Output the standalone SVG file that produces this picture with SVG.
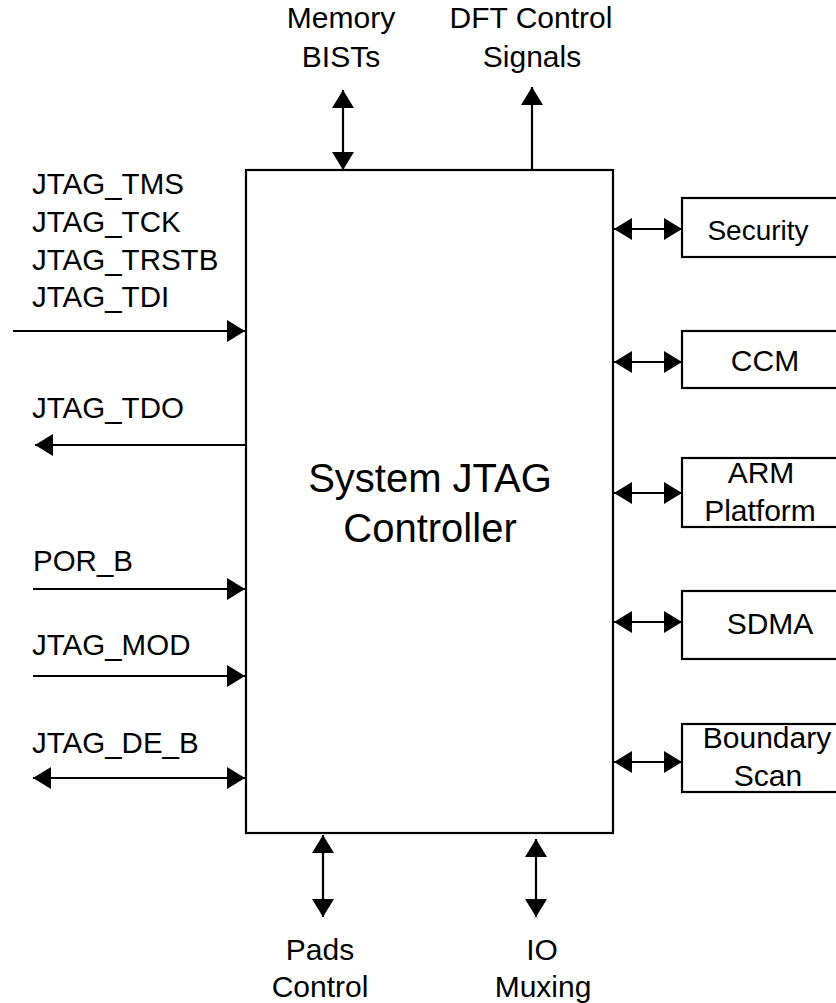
<svg xmlns="http://www.w3.org/2000/svg" width="836" height="1003" viewBox="0 0 836 1003">
<style>
.t{font-family:"Liberation Sans",Arial,sans-serif;font-size:30px;fill:#000}
.l{font-size:29.5px}
.c{text-anchor:middle}
.box{fill:#fff;stroke:#000;stroke-width:2.2}
.ln{stroke:#000;stroke-width:2.2;fill:none}
</style>
<defs>
<marker id="ah" markerUnits="userSpaceOnUse" markerWidth="18" markerHeight="22" refX="18" refY="11" orient="auto-start-reverse" viewBox="0 0 18 22">
<path d="M0,0 L18,11 L0,22 z" fill="#000"/>
</marker>
</defs>
<rect width="836" height="1003" fill="#fff"/>
<g id="controller">
<rect class="box" x="246" y="170" width="367" height="663"/>
<text class="t c" x="430" y="492" style="font-size:40px">System JTAG</text>
<text class="t c" x="430" y="542" style="font-size:40px">Controller</text>
</g>
<g id="security"><rect class="box" x="682" y="198" width="170" height="59"/><text class="t c" x="758" y="240" style="font-size:28px">Security</text></g>
<g id="ccm"><rect class="box" x="682" y="331" width="170" height="57"/><text class="t c" x="765" y="371">CCM</text></g>
<g id="arm"><rect class="box" x="682" y="458" width="170" height="69"/><text class="t c" x="761" y="483">ARM</text><text class="t c" x="760" y="521">Platform</text></g>
<g id="sdma"><rect class="box" x="682" y="591" width="170" height="68"/><text class="t c" x="770" y="634">SDMA</text></g>
<g id="boundary"><rect class="box" x="682" y="724" width="170" height="68"/><text class="t c" x="767" y="748">Boundary</text><text class="t c" x="768" y="786">Scan</text></g>
<g id="labels">
<text class="t l" x="32" y="194">JTAG_TMS</text>
<text class="t l" x="32" y="232">JTAG_TCK</text>
<text class="t l" x="32" y="270">JTAG_TRSTB</text>
<text class="t l" x="32" y="307">JTAG_TDI</text>
<text class="t l" x="32" y="418">JTAG_TDO</text>
<text class="t l" x="33" y="571">POR_B</text>
<text class="t l" x="32" y="655">JTAG_MOD</text>
<text class="t l" x="32" y="753">JTAG_DE_B</text>
<text class="t c" x="341" y="28">Memory</text>
<text class="t c" x="341" y="67">BISTs</text>
<text class="t c" x="531" y="28">DFT Control</text>
<text class="t c" x="532" y="67">Signals</text>
<text class="t c" x="320" y="960">Pads</text>
<text class="t c" x="320" y="997">Control</text>
<text class="t c" x="542" y="960">IO</text>
<text class="t c" x="543" y="997">Muxing</text>
</g>
<g id="connectors">
<line class="ln" x1="13" y1="331" x2="245" y2="331" marker-end="url(#ah)"/>
<line class="ln" x1="246" y1="445" x2="35" y2="445" marker-end="url(#ah)"/>
<line class="ln" x1="33" y1="589" x2="245" y2="589" marker-end="url(#ah)"/>
<line class="ln" x1="33" y1="676" x2="245" y2="676" marker-end="url(#ah)"/>
<line class="ln" x1="33" y1="778" x2="245" y2="778" marker-start="url(#ah)" marker-end="url(#ah)"/>
<line class="ln" x1="343" y1="90" x2="343" y2="170" marker-start="url(#ah)" marker-end="url(#ah)"/>
<line class="ln" x1="532" y1="170" x2="532" y2="87" marker-end="url(#ah)"/>
<line class="ln" x1="323" y1="835" x2="323" y2="917" marker-start="url(#ah)" marker-end="url(#ah)"/>
<line class="ln" x1="536" y1="839" x2="536" y2="917" marker-start="url(#ah)" marker-end="url(#ah)"/>
<line class="ln" x1="614" y1="229" x2="682" y2="229" marker-start="url(#ah)" marker-end="url(#ah)"/>
<line class="ln" x1="614" y1="362" x2="682" y2="362" marker-start="url(#ah)" marker-end="url(#ah)"/>
<line class="ln" x1="614" y1="493" x2="682" y2="493" marker-start="url(#ah)" marker-end="url(#ah)"/>
<line class="ln" x1="614" y1="622" x2="682" y2="622" marker-start="url(#ah)" marker-end="url(#ah)"/>
<line class="ln" x1="614" y1="762" x2="682" y2="762" marker-start="url(#ah)" marker-end="url(#ah)"/>
</g>
</svg>
